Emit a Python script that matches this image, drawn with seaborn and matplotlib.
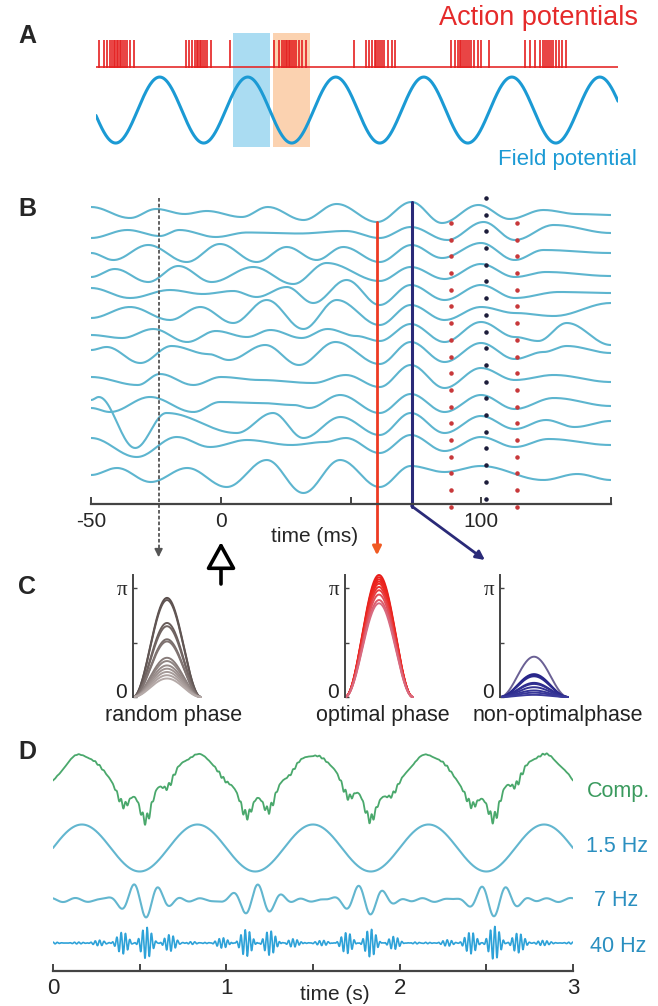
import numpy as np
import matplotlib
matplotlib.use("Agg")
import matplotlib.pyplot as plt
import seaborn as sns
from matplotlib.patches import Rectangle, FancyArrowPatch

sns.set_theme(style="white")
plt.rcParams['font.family'] = ['Liberation Sans', 'DejaVu Sans']

# ---------------- data ----------------
# A: spike times (ms) and field potential
spike_times = [6, 15, 21, 27, 31, 34, 36, 40, 42, 46, 48, 52, 56, 59, 65, 73,
               172, 178, 184, 190, 194, 195, 199, 201, 205, 209, 213, 220,
               257,
               341, 351, 356, 360, 364, 366, 370, 372, 376, 379, 383, 389, 395, 402,
               494, 517, 523, 529, 535, 536, 540, 544, 548, 552, 559, 567, 573,
               680, 688, 694, 697, 699, 703, 707, 711, 715, 718, 724, 732, 738, 753,
               822, 831, 841, 851, 856, 860, 864, 868, 872, 876, 881, 887, 893, 900]
field_freq_hz = 5.93
field_peak_ms = 122
blue_window_ms = (262, 333)
orange_window_ms = (339, 410)

# B: LFP traces, extrema (time in ms, deflection, up = positive)
b_times = [
    [-50, -35, -25, -14, -5.5, 8, 18, 31.7, 44.5, 60, 73.3, 85, 99, 111, 124, 137, 150],
    [-50, -36, -23.5, -16, -2, 10, 30, 48, 61, 73, 87, 101, 113, 128, 150],
    [-50, -41.4, -28, -13.2, -0.4, 13.7, 25.3, 36.8, 47, 61, 73.3, 85, 100, 113, 124, 150],
    [-50, -40.8, -28, -16.4, -3.6, 12.4, 27.8, 40.6, 61, 73, 86, 100, 113, 125, 150],
    [-50, -35, -19.6, -7, 4.7, 13.7, 25.3, 35.5, 48.3, 61, 73, 86, 100, 113, 130, 150],
    [-50, -35, -19.6, -8, 4.7, 17.6, 31.7, 44.5, 61, 73, 86, 100, 113, 128, 150],
    [-50, -38, -26, -13, -2, 10, 19, 31, 41, 52, 61, 73, 86, 100, 113, 122, 133, 150],
    [-50, -44, -31, -19, -5, 3, 17, 30, 44, 61, 73, 86, 100, 113, 124, 133, 150],
    [-50, -32, -23.5, -10.6, 0, 15, 35.5, 48, 61, 73, 86, 100, 113, 128, 150],
    [-50, -42.7, -27.3, -10.6, -0.4, 15, 28, 34, 45.8, 61, 73, 86, 100, 113, 128, 150],
    [-50, -47, -33, -21, 6, 20, 31.7, 46, 61, 73, 86, 100, 113, 125, 136, 150],
    [-50, -32.4, -17, -4.2, 10, 27, 40, 48, 61, 73, 86, 100, 113, 126, 150],
    [-50, -40, -27, -13, 2.2, 17.6, 31.7, 45.8, 61, 73, 86, 100, 124, 137, 150],
]
b_amps = [
    [6, -5, 4, -1, 2, -4, 6, -7, 9, -9, 11, -10, 8, -6, 3, -1, -2],
    [-4, 4, -2, 4, -3, 1.5, 0.5, 3, -4, 7, -6, 12, -6, 9, 1],
    [0, -7, 8, -9, 9, -9, 6, -7, 6, -9, 8, -5, 10, -7, 3, 0],
    [-4, 4, -9, 7, -9, 6, -11, 10, -8, 6, -6, 9, -4, 1, -3],
    [5, -5, 3, -1, 2, -4, 6, -10, 13, -12, 8, -7, 8, -5, 1, 0],
    [-6, 5, -8, 5, -11, 12, -17, 12, -13, 7, -8, 5, -1, -4, 9],
    [-2, -5, 4, -9, 2, -4, 3, -5, 4, -3, -8, 9, -9, 11, -4, -8, 10, -12],
    [2, 5, -11, 6, -2, -8, 7, -13, 10, -12, 10, -10, 9, -7, 0, 6, -1],
    [0, -8, 3, -8, 0, -3, -6, 2, -10, 12, -11, 9, -3, 2, -5],
    [-5, -9, 6, -9, 1, 0, -2, -5, 8, -10, 9, -9, 8, -6, 5, -3],
    [23, 26, -25, 10, -10, 10, -15, 6, -12, 10, -10, 7, -6, 3, -4, 2],
    [5, -14, 6, -4, 3, -2, 1, 5, -10, 8, -8, 6, -4, 4, -2],
    [-5, 2, -12, 2, -17, 10, -23, 10, -17, 4, -2, 4, -10, -4, -10],
]
random_line_ms = -24
optimal_line_ms = 60
nonoptimal_line_ms = 73.3
red_dot_ms = [88.5, 114]
black_dot_ms = 102

# C: phase concentration curves, peak height in units of pi
random_heights = [0.91, 0.89, 0.68, 0.65, 0.53, 0.51, 0.36, 0.33, 0.29, 0.26, 0.23, 0.20, 0.17]
optimal_heights = [1.12, 1.10, 1.08, 1.06, 1.04, 1.01, 0.98, 0.94, 0.89, 0.86]
nonopt_heights = [0.37, 0.21, 0.20, 0.19, 0.13, 0.12, 0.09, 0.06, 0.04, 0.02]

# D: nested oscillations
slow_hz, theta_hz, gamma_hz = 1.5, 7, 40
theta_peaks_s = [0.468, 1.184, 1.763, 2.474]
burst_centers_s = [0.52, 1.17, 1.80, 2.54]
theta_burst_amp = [19, 17, 17, 18]
gamma_burst_amp = [16, 15, 15, 16]

# ---------------- figure ----------------
W, H = 658, 1006
fig = plt.figure(figsize=(W / 100, H / 100), dpi=100)


def px_axes(x0, y0, x1, y1):
    ax = fig.add_axes([x0 / W, 1 - y1 / H, (x1 - x0) / W, (y1 - y0) / H])
    ax.set_facecolor('none')
    return ax


def ftext(x, y, s, **kw):
    fig.text(x / W, 1 - y / H, s, **kw)


def ease(times, amps, n=24):
    xs, ys = [], []
    for i in range(len(times) - 1):
        u = np.linspace(0, 1, n, endpoint=False)
        xs.append(times[i] + (times[i + 1] - times[i]) * u)
        ys.append(amps[i] + (amps[i + 1] - amps[i]) * (1 - np.cos(np.pi * u)) / 2)
    xs.append([times[-1]])
    ys.append([amps[-1]])
    return np.concatenate(xs), np.concatenate(ys)


for lab, yy in zip("ABCD", [36, 209, 587, 752]):
    ftext(27, yy, lab, fontsize=18, fontweight='bold', ha='center', va='center')

# ---- A ----
axA = px_axes(96, 32, 618, 148)
axA.set_xlim(0, 1000)
axA.set_ylim(-1.15, 2.365)
axA.axis('off')
axA.add_patch(Rectangle((blue_window_ms[0], -1.12), blue_window_ms[1] - blue_window_ms[0], 3.45,
                        color='#aadcf2', lw=0, zorder=0))
axA.add_patch(Rectangle((orange_window_ms[0], -1.12), orange_window_ms[1] - orange_window_ms[0], 3.45,
                        color='#fbd2b0', lw=0, zorder=0))
axA.hlines(1.30, 0, 1000, color='#e52a2a', lw=1.2)
axA.vlines(spike_times, 1.27, 2.12, color='#e52020', lw=1.2)
tA = np.linspace(0, 1000, 800)
fp = np.cos(2 * np.pi * field_freq_hz * (tA - field_peak_ms) / 1000)
sns.lineplot(x=tA, y=fp, ax=axA, color='#1b9ad4', lw=2.2, sort=False)
ftext(638, 18, 'Action potentials', color='#e52a2a', fontsize=19.5, ha='right', va='center')
ftext(637, 160, 'Field potential', color='#1b9ad4', fontsize=16, ha='right', va='center')

# ---- B ----
axB = px_axes(91, 195, 611, 504)
axB.set_xlim(-50, 150)
axB.set_ylim(504, 195)
levels = [213, 234, 253, 273, 293, 312, 333, 352, 377, 403, 423, 443, 470]
for tt, aa, lev in zip(b_times, b_amps, levels):
    xs, ys = ease(tt, aa)
    sns.lineplot(x=xs, y=lev - ys, ax=axB, color='#5db5cf', lw=1.5, sort=False)

for s in ['top', 'right', 'left']:
    axB.spines[s].set_visible(False)
axB.spines['bottom'].set_color('#444444')
axB.spines['bottom'].set_linewidth(1.6)
axB.set_xticks([-50, 0, 50, 100, 150])
axB.set_xticklabels(['-50', '0', '', '100', ''])
axB.set_yticks([])
axB.tick_params(axis='x', direction='in', length=5, width=1.4, color='#444444',
                labelsize=15, pad=6, bottom=True)
axB.set_xlabel('time (ms)', fontsize=15, labelpad=-6)
axB.xaxis.set_label_coords(0.43, -0.075)

# dotted marker columns
dots_r = np.arange(223, 508, 16.7)
dots_b = np.arange(198, 501, 16.7)
for tm in red_dot_ms:
    axB.scatter(np.full(len(dots_r), tm), dots_r, s=5, color='#c8383a', zorder=5, clip_on=False)
axB.scatter(np.full(len(dots_b), black_dot_ms), dots_b, s=5, color='#1c1c3a', zorder=5, clip_on=False)

# vertical lines and arrows
axB.plot([random_line_ms] * 2, [198, 550], color='#555555', lw=1.3, ls=(0, (2, 1.2)), clip_on=False)
axB.annotate('', xy=(random_line_ms, 560), xytext=(random_line_ms, 548),
             arrowprops=dict(arrowstyle='-|>', color='#555555', lw=1.2, mutation_scale=12),
             annotation_clip=False)
axB.plot([optimal_line_ms] * 2, [222, 550], color='#ee3a22', lw=2, clip_on=False)
axB.annotate('', xy=(optimal_line_ms, 558), xytext=(optimal_line_ms, 546),
             arrowprops=dict(arrowstyle='-|>', color='#f05a22', lw=2, mutation_scale=13),
             annotation_clip=False)
axB.plot([nonoptimal_line_ms] * 2, [202, 507], color='#2a2a78', lw=2.2, clip_on=False)
axB.annotate('', xy=(101.5, 560), xytext=(nonoptimal_line_ms, 506),
             arrowprops=dict(arrowstyle='-|>', color='#2a2a78', lw=2, mutation_scale=13,
                             shrinkA=0, shrinkB=0),
             annotation_clip=False)
big = FancyArrowPatch((0, 584), (0, 542), arrowstyle='-|>,head_length=0.65,head_width=0.36',
                      mutation_scale=25, fc='white', ec='black', lw=2.6, clip_on=False,
                      shrinkA=0, shrinkB=0)
axB.add_patch(big)

# ---- C ----
u = np.linspace(0, 1, 200)
shape = 0.5 * (1 - np.cos(2 * np.pi * u))
c_specs = [
    (133, random_heights, 'random phase', 174),
    (345, optimal_heights, 'optimal phase', 383),
    (500, nonopt_heights, 'non-optimalphase', 558),
]
gray_cols = sns.blend_palette(['#5a4e4c', '#b5aaa8'], len(random_heights))
red_cols = sns.blend_palette(['#e81e1a', '#ee2a24', '#d86a80'], len(optimal_heights))
navy_cols = ['#6a6094'] + sns.blend_palette(['#262488', '#3a3a9a'], len(nonopt_heights) - 1)
for (x0, hts, label, cx), cols in zip(c_specs, [gray_cols, red_cols, navy_cols]):
    ax = px_axes(x0, 575, x0 + 68, 697)
    ax.set_xlim(0, 1)
    ax.set_ylim(0, 1.12 * np.pi)
    for h, col in zip(hts, cols):
        sns.lineplot(x=u, y=h * np.pi * shape, ax=ax, color=col, lw=1.4, sort=False, clip_on=False)
    for s in ['top', 'right', 'bottom']:
        ax.spines[s].set_visible(False)
    ax.spines['left'].set_color('#444444')
    ax.spines['left'].set_linewidth(1.4)
    ax.set_xticks([])
    ax.set_yticks([0, np.pi / 2, np.pi])
    ax.set_yticklabels(['', '', 'π'])
    ax.tick_params(axis='y', direction='in', length=3, width=1, color='#444444',
                   labelsize=15, pad=4, left=True)
    ax.get_yticklabels()[2].set_family('Liberation Serif')
    ax.text(-0.09, 0.04, '0', transform=ax.transAxes, ha='right', va='center',
            fontsize=15, color='#222222')
    ftext(cx, 716, label, fontsize=15.5, ha='center', va='center', color='#222222')

# ---- D ----
axD = px_axes(53, 740, 573, 971)
axD.set_xlim(0, 3)
axD.set_ylim(971, 740)
t = np.linspace(0, 3, 3000)
slow = np.sin(2 * np.pi * slow_hz * t)
theta = 0.12 * np.cos(2 * np.pi * theta_hz * t + 0.6)
gamma = 0.06 * np.cos(2 * np.pi * gamma_hz * t) * (0.5 + 0.5 * np.cos(2 * np.pi * theta_hz * t))
for p, c, ta, ga in zip(theta_peaks_s, burst_centers_s, theta_burst_amp, gamma_burst_amp):
    env = np.exp(-(t - c) ** 2 / (2 * 0.11 ** 2))
    theta += ta / 17 * env * np.cos(2 * np.pi * theta_hz * (t - p))
    genv = np.exp(-(t - c) ** 2 / (2 * 0.14 ** 2)) * (1 - np.cos(2 * np.pi * theta_hz * (t - p))) / 2
    gamma += ga / 15 * genv * np.cos(2 * np.pi * gamma_hz * (t - p))
comp = 27 * slow + 12 * theta + 5 * gamma

sns.lineplot(x=t, y=782 - comp, ax=axD, color='#4aa86c', lw=1.3, sort=False)
sns.lineplot(x=t, y=848 - 23.5 * slow, ax=axD, color='#62b6cf', lw=1.5, sort=False)
sns.lineplot(x=t, y=900 - 17 * theta, ax=axD, color='#62b6cf', lw=1.5, sort=False)
sns.lineplot(x=t, y=943 - 15 * gamma, ax=axD, color='#2ea2d8', lw=1.2, sort=False)

for s in ['top', 'right', 'left']:
    axD.spines[s].set_visible(False)
axD.spines['bottom'].set_color('#444444')
axD.spines['bottom'].set_linewidth(1.6)
axD.set_xticks([0, 0.5, 1, 1.5, 2, 2.5, 3])
axD.set_xticklabels(['0', '', '1', '', '2', '', '3'])
axD.set_yticks([])
axD.tick_params(axis='x', direction='in', length=5, width=1.4, color='#444444',
                labelsize=16, pad=5, bottom=True)
ftext(335, 995, 'time (s)', fontsize=15, ha='center', va='center')

ftext(650, 792, 'Comp.', color='#3a9a5e', fontsize=15.5, ha='right', va='center')
ftext(648, 847, '1.5 Hz', color='#2a8fc0', fontsize=15.5, ha='right', va='center')
ftext(638, 900, '7 Hz', color='#2a8fc0', fontsize=15.5, ha='right', va='center')
ftext(646, 946, '40 Hz', color='#2a8fc0', fontsize=15.5, ha='right', va='center')

fig.savefig('out.png', dpi=100)
